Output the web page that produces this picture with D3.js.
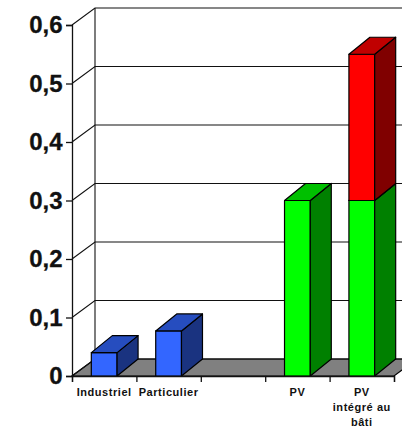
<!DOCTYPE html>
<html>
<head>
<meta charset="utf-8">
<script src="https://cdn.jsdelivr.net/npm/d3@7"></script>
<style>
	html, body { margin: 0; padding: 0; background: #fff; overflow: hidden; }
	svg { display: block; }
	text { font-family: "Liberation Sans", Arial, sans-serif; font-weight: bold; fill: #111; }
</style>
</head>
<body>
<div id="chart"></div>
<script>
var categories = ["Industriel", "Particulier", "", "PV", "PV\nintégré au\nbâti"];
var blueValues = [0.04, 0.077, 0, 0, 0];
var greenValues = [0, 0, 0, 0.3, 0.3];
var redValues = [0, 0, 0, 0, 0.25];
var yTicks = [0, 0.1, 0.2, 0.3, 0.4, 0.5, 0.6];
var seriesNames = ["blue", "green", "red"];

var colors = {
	blue: { front: "#3366ff", top: "#264dbf", side: "#1a3380" },
	green: { front: "#00ff00", top: "#00c000", side: "#008000" },
	red: { front: "#ff0000", top: "#c00000", side: "#800000" }
};

var width = 402, height = 428;
var wallDx = 23, wallDy = 17;
var barDx = 21, barDy = 17;

var svg = d3.select("#chart").append("svg")
	.attr("width", width)
	.attr("height", height);

var x = d3.scaleBand().domain(d3.range(categories.length)).range([72, 394]).paddingInner(0.6).paddingOuter(0.3);
var xEdges = d3.scaleLinear().domain([0, categories.length]).range([72, 394]);
var y = d3.scaleLinear().domain([0, 0.6]).range([376, 25]);

// floor
var x0 = xEdges.range()[0], x1 = xEdges.range()[1];
svg.append("path")
	.attr("d", d3.line()([[x0, y(0)], [x1, y(0)], [x1 + wallDx, y(0) - wallDy], [x0 + wallDx, y(0) - wallDy]]) + "Z")
	.attr("fill", "#808080")
	.attr("stroke", "#000")
	.attr("stroke-width", 1.2);

// back wall and left side grid lines
yTicks.forEach(function(t) {
	svg.append("path")
		.attr("d", d3.line()([[x0, y(t)], [x0 + wallDx, y(t) - wallDy], [width + 30, y(t) - wallDy]]))
		.attr("fill", "none")
		.attr("stroke", "#111")
		.attr("stroke-width", 1.1);
});
svg.append("line")
	.attr("x1", x0 + wallDx).attr("x2", x0 + wallDx)
	.attr("y1", y(0.6) - wallDy).attr("y2", y(0) - wallDy)
	.attr("stroke", "#111")
	.attr("stroke-width", 1.1);

// bars
var rows = categories.map(function(c, i) {
	return { blue: blueValues[i], green: greenValues[i], red: redValues[i] };
});
var stacked = d3.stack().keys(seriesNames)(rows);

categories.forEach(function(c, i) {
	stacked.forEach(function(layer) {
		var lo = layer[i][0], hi = layer[i][1];
		if (hi <= lo) return;
		var col = colors[layer.key];
		var left = x(i), right = x(i) + x.bandwidth();
		var g = svg.append("g").attr("stroke", "#000").attr("stroke-width", 1.2).attr("stroke-linejoin", "round");
		g.append("rect")
			.attr("x", left)
			.attr("y", y(hi))
			.attr("width", right - left)
			.attr("height", y(lo) - y(hi))
			.attr("fill", col.front);
		g.append("path")
			.attr("d", d3.line()([[right, y(hi)], [right + barDx, y(hi) - barDy], [right + barDx, y(lo) - barDy], [right, y(lo)]]) + "Z")
			.attr("fill", col.side);
		g.append("path")
			.attr("d", d3.line()([[left, y(hi)], [left + barDx, y(hi) - barDy], [right + barDx, y(hi) - barDy], [right, y(hi)]]) + "Z")
			.attr("fill", col.top);
	});
});

// axes
var yAxis = d3.axisLeft(y)
	.tickValues(yTicks)
	.tickSize(6)
	.tickPadding(3.5)
	.tickFormat(function(d) { return d === 0 ? "0" : String(d).replace(".", ","); });

var yG = svg.append("g")
	.attr("transform", "translate(" + x0 + ",0)")
	.call(yAxis);
yG.selectAll("text").style("font-size", "24px").style("stroke", "#111").style("stroke-width", "0.3px");
yG.selectAll("line, path").attr("stroke", "#111").attr("stroke-width", 1.3);

var tickAxis = d3.axisBottom(xEdges)
	.tickValues(d3.range(categories.length + 1))
	.tickSize(6)
	.tickFormat("");
var tickG = svg.append("g")
	.attr("transform", "translate(0," + y(0) + ")")
	.call(tickAxis);
tickG.selectAll("line, path").attr("stroke", "#111").attr("stroke-width", 1.3);

var labelAxis = d3.axisBottom(x).tickSize(0).tickFormat("");
var labelG = svg.append("g")
	.attr("transform", "translate(0," + y(0) + ")")
	.call(labelAxis);
labelG.select("path").remove();
labelG.selectAll(".tick").each(function(i) {
	var t = d3.select(this).select("text")
		.style("font-size", "11px")
		.style("letter-spacing", "0.55px")
		.attr("dy", 0);
	categories[i].split("\n").forEach(function(line, k) {
		t.append("tspan").attr("x", 0).attr("y", 20 + k * 15).text(line);
	});
});
</script>
</body>
</html>
